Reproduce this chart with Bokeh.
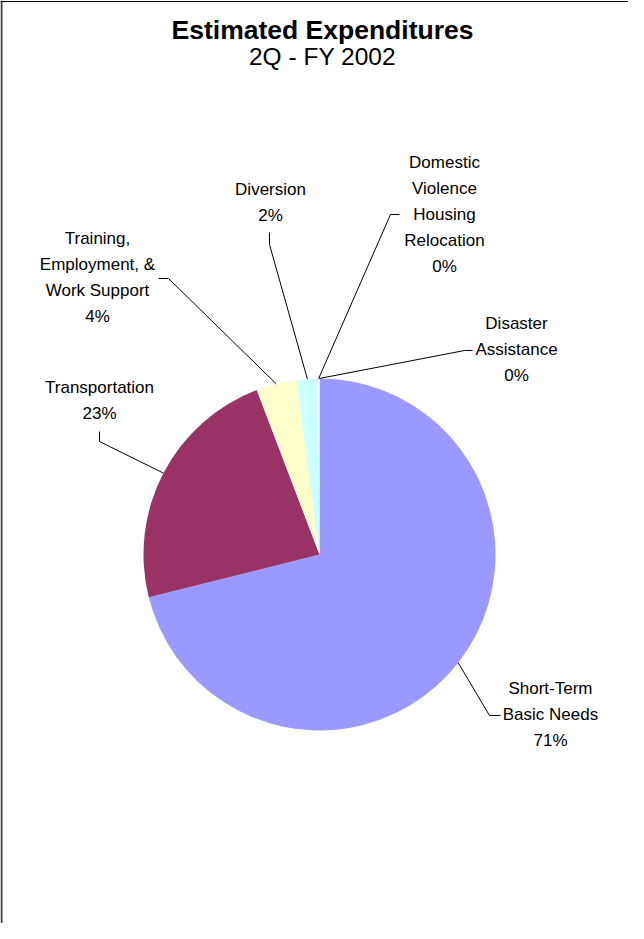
import math
from bokeh.plotting import figure
from bokeh.models import Range1d, ColumnDataSource, Span
from bokeh.core.properties import value
from bokeh.embed import file_html
from bokeh.resources import INLINE

# ---- data ----
categories = ["Short-Term\nBasic Needs", "Transportation", "Training,\nEmployment, &\nWork Support",
              "Diversion", "Domestic\nViolence\nHousing\nRelocation", "Disaster\nAssistance"]
values = [71.1, 23.1, 3.7, 2.0, 0.05, 0.05]
colors = ["#9999FF", "#993366", "#FFFFCC", "#CCFFFF", "#FFFFFF", "#FFFFFF"]
title = "Estimated Expenditures"
subtitle = "2Q - FY 2002"

# ---- layout (page pixel coordinates of the reference) ----
W, H = 628, 923
PAGE_H = 939
def Y(py):
    return PAGE_H - py

cx, cy, R = 327, Y(562), 176
# label block centres and leader elbows (layout)
label_pos = [(558, 722), (107, 408), (105, 285), (278, 209.5), (452, 222), (524, 357)]
elbows = [[(497, 723), (508, 723)],
          [(107, 449), (107, 439)],
          [(176, 286), (166, 286)],
          [(277, 252), (277, 240)],
          [(398, 222), (407, 222)],
          [(472, 358), (480, 358)]]
LINE_H = 26

p = figure(width=W, height=H, x_range=Range1d(8, 8 + W), y_range=Range1d(PAGE_H - 8 - H, PAGE_H - 8),
           x_axis_type=None, y_axis_type=None, output_backend="svg", toolbar_location=None,
           min_border=0)
p.outline_line_color = None
p.background_fill_color = "white"
p.border_fill_color = "white"
p.grid.visible = False

# border (left and top edges visible in the reference)
p.add_layout(Span(location=9, dimension="height", line_color="#404040", line_width=2))
p.add_layout(Span(location=Y(9), dimension="width", line_color="black", line_width=1))

total = sum(values)
fracs = [v / total for v in values]
starts, ends, mids = [], [], []
c = 0.0
for f in fracs:
    starts.append(math.pi / 2 - 2 * math.pi * (c + f))
    ends.append(math.pi / 2 - 2 * math.pi * c)
    mids.append(c + f / 2)
    c += f

src = ColumnDataSource(dict(start=starts, end=ends, color=colors))
p.wedge(x=cx, y=cy, radius=R, start_angle="start", end_angle="end",
        fill_color="color", line_color=None, source=src)

# leader lines
xs, ys = [], []
for m, el in zip(mids, elbows):
    th = 2 * math.pi * m
    ex, ey = cx + R * math.sin(th), cy + R * math.cos(th)
    xs.append([ex] + [e[0] for e in el])
    ys.append([ey] + [Y(e[1]) for e in el])
p.multi_line(xs=xs, ys=ys, line_color="black", line_width=1)

# labels
tx, ty, tt = [], [], []
for cat, f, (lx, ly) in zip(categories, fracs, label_pos):
    lines = cat.split("\n") + ["%d%%" % round(f * 100)]
    n = len(lines)
    for i, ln in enumerate(lines):
        tx.append(lx)
        ty.append(Y(ly + (i - (n - 1) / 2) * LINE_H))
        tt.append(ln)
p.text(x=tx, y=ty, text=tt, text_font=value("Liberation Sans"), text_font_size="17px",
       text_align="center", text_baseline="middle", text_color="black")

# title
p.text(x=[330], y=[Y(37)], text=[title], text_font=value("Liberation Sans"), text_font_size="26.5px",
       text_font_style="bold", text_align="center", text_baseline="middle", text_color="black")
p.text(x=[330], y=[Y(64)], text=[subtitle], text_font=value("Liberation Sans"), text_font_size="24.5px",
       text_align="center", text_baseline="middle", text_color="black")

open("out.html", "w").write(file_html(p, INLINE))
